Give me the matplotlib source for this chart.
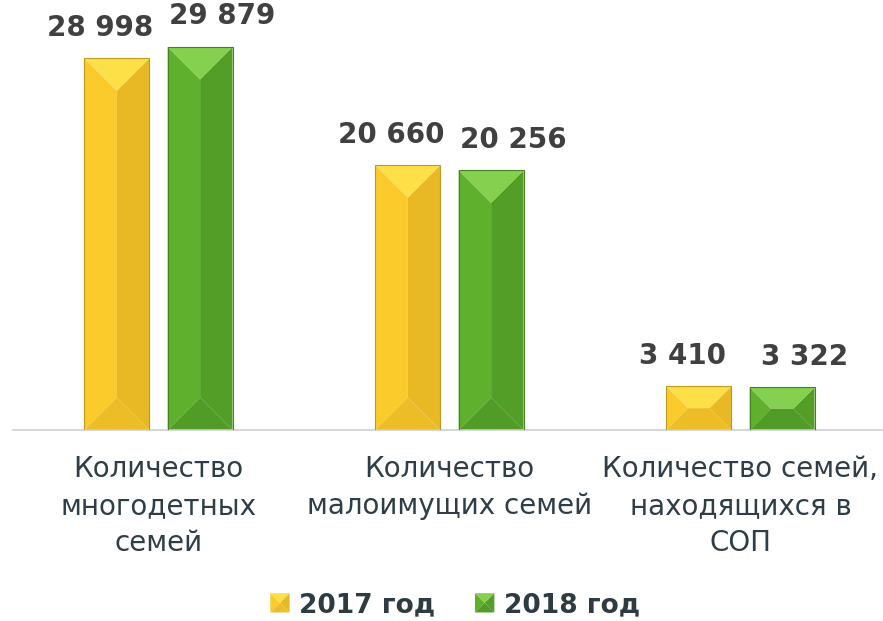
import numpy as np
import matplotlib.pyplot as plt
from matplotlib.patches import Polygon
from matplotlib.legend_handler import HandlerBase

categories = ['Количество\nмногодетных\nсемей',
              'Количество\nмалоимущих семей',
              'Количество семей,\nнаходящихся в\nСОП']
years = ['2017 год', '2018 год']
values_2017 = [28998, 20660, 3410]
values_2018 = [29879, 20256, 3322]

# face colours: main (left), dark (right), light (top), bottom
palette = {
    '2017 год': dict(main='#FACB2A', dark='#E9B925', light='#FDDF48', bottom='#EDBD28', edge='#C09A1E'),
    '2018 год': dict(main='#5EB02D', dark='#529E26', light='#85D04F', bottom='#519C26', edge='#44821F'),
}

fig = plt.figure(figsize=(8.83, 6.21), dpi=100)
ax = fig.add_axes([13 / 883, 191 / 621, 873 / 883, 423 / 621])
ax.set_xlim(-0.5, 2.5)
ax.set_ylim(0, 33000)

x = np.arange(len(categories))
width = 0.223
offset = 0.143


def bevel_bar(ax, xc, h, c):
    # beveled bar built from the bar geometry in display space
    x0, x1 = xc - width / 2, xc + width / 2
    to_px = ax.transData.transform
    from_px = ax.transData.inverted().transform
    (px0, py0), (px1, py1) = to_px([(x0, 0), (x1, h)])
    d = min((px1 - px0) / 2, (py1 - py0) / 2)
    pm = (px0 + px1) / 2
    pts = {
        'tl': (px0, py1), 'tr': (px1, py1), 'bl': (px0, py0), 'br': (px1, py0),
        'itl': (px0 + d, py1 - d), 'itr': (px1 - d, py1 - d),
        'ibl': (px0 + d, py0 + d), 'ibr': (px1 - d, py0 + d),
    }
    if (px1 - px0) / 2 <= (py1 - py0) / 2:
        pts['itl'] = pts['itr'] = (pm, py1 - d)
        pts['ibl'] = pts['ibr'] = (pm, py0 + d)
    faces = [
        (['tl', 'itl', 'ibl', 'bl'], c['main']),
        (['tr', 'itr', 'ibr', 'br'], c['dark']),
        (['itl', 'itr', 'ibr', 'ibl'], c['main']),
        (['tl', 'tr', 'itr', 'itl'], c['light']),
        (['bl', 'br', 'ibr', 'ibl'], c['bottom']),
    ]
    for keys, col in faces:
        poly = from_px([pts[k] for k in keys])
        ax.add_patch(Polygon(poly, closed=True, facecolor=col, edgecolor='none', zorder=2))
    ax.bar(xc, h, width=width, facecolor='none', edgecolor=c['edge'], linewidth=0.8, zorder=3)


for i in range(len(categories)):
    for yr, vals, sign, dx in [(years[0], values_2017, -1, -12), (years[1], values_2018, 1, 16)]:
        xc = x[i] + sign * offset
        bevel_bar(ax, xc, vals[i], palette[yr])
        ax.annotate(f'{vals[i]:,}'.replace(',', ' '), (xc, vals[i]),
                    xytext=(dx, 12), textcoords='offset points', ha='center', va='bottom',
                    fontsize=20, fontweight='bold', color='#404040')

ax.set_xticks(x)
ax.set_xticklabels(categories, fontsize=20, color='#2F3E46', linespacing=1.4)
ax.tick_params(axis='x', length=0, pad=18)
ax.set_yticks([])
for s in ['top', 'right', 'left']:
    ax.spines[s].set_visible(False)
ax.spines['bottom'].set_color('#D0D0D0')
ax.spines['bottom'].set_linewidth(1.2)


class BevelHandler(HandlerBase):
    def create_artists(self, legend, orig_handle, xd, yd, width, height, fontsize, trans):
        c = palette[orig_handle]
        s = min(width, height)
        x0 = -xd + (width - s) / 2
        y0 = -yd + (height - s) / 2
        x1, y1 = x0 + s, y0 + s
        m = (x0 + s / 2, y0 + s / 2)
        arts = []
        for poly, col in [
            ([(x0, y1), m, (x0, y0)], c['main']),
            ([(x1, y1), m, (x1, y0)], c['dark']),
            ([(x0, y1), (x1, y1), m], c['light']),
            ([(x0, y0), (x1, y0), m], c['bottom']),
        ]:
            p = Polygon(poly, closed=True, facecolor=col, edgecolor='none', transform=trans)
            arts.append(p)
        return arts


handles = years
leg = fig.legend(handles, years, handler_map={str: BevelHandler()}, loc='center',
                 bbox_to_anchor=(455 / 883, 1 - 605 / 621), ncol=2, frameon=False,
                 prop={'size': 19, 'weight': 'bold'}, handlelength=0.75, handleheight=0.75,
                 handletextpad=0.35, columnspacing=1.5)
for t in leg.get_texts():
    t.set_color('#2E3B42')

fig.savefig('out.png', dpi=100)
